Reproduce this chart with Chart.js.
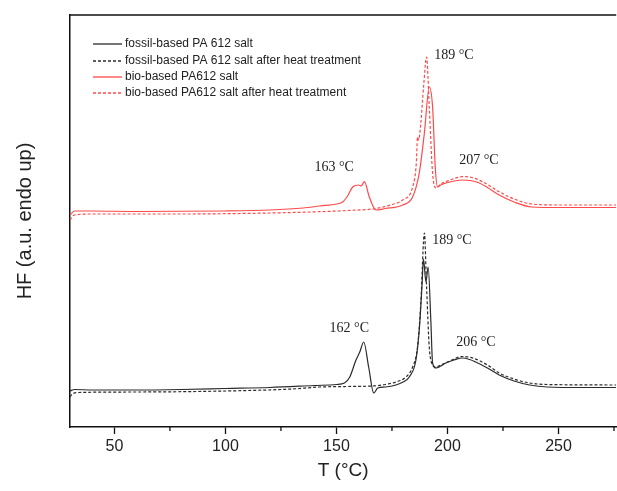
<!DOCTYPE html>
<html>
<head>
<meta charset="utf-8">
<script src="https://cdn.jsdelivr.net/npm/chart.js@4/dist/chart.umd.min.js"></script>
<style>
  html, body { margin: 0; padding: 0; background: #fff; }
  #wrap { width: 617px; height: 491px; position: relative; }
</style>
</head>
<body>
<div id="wrap"><canvas id="dscChart"></canvas></div>
<script>
// DSC heating curves, HF in arbitrary units (endo up)
const fossilT  = [30, 32, 40, 60, 80, 100, 120, 140, 150, 153.6, 156, 158.8, 160.5, 162.3, 164.5, 166.8, 168.6, 172, 176.8, 180, 182.8, 185.8, 187.3, 188.5, 189.2, 190.3, 191.3, 192.5, 193.3, 194.8, 197, 199.3, 203, 206.8, 210, 212.7, 218, 223.3, 230, 237, 245, 260, 276];
const fossilHF = [36, 37.5, 37, 37, 37.5, 38.5, 39.5, 41.5, 42.5, 44, 50, 67, 75, 85, 60, 34, 39, 40, 42, 45, 50, 67, 97, 140, 168, 145, 160, 107, 64, 59, 61, 64, 67, 69, 67.5, 65, 59, 52, 46, 42, 40, 39.5, 39.5];

const fossilHeatT  = [30, 31, 34, 60, 100, 130, 142.4, 155, 166.3, 172, 176.8, 181.3, 184.3, 186.5, 188, 189.6, 190.6, 191.8, 193.3, 194.5, 197, 200, 206.8, 212, 218, 223.3, 230, 237, 245, 276];
const fossilHeatHF = [30, 33, 34.5, 35, 36, 38, 40, 40.5, 41, 42.5, 45, 50, 60, 80, 124, 194, 140, 80, 62, 60, 62, 65, 70.5, 68.5, 62, 54, 48, 44, 42.5, 42];

const bioT  = [30, 32, 40, 60, 100, 120, 135, 142.4, 150, 152.8, 155, 157.3, 160, 161.1, 162.6, 164.8, 167.8, 172, 179.8, 184.3, 187.3, 189.6, 191.8, 193.3, 194.5, 195.5, 197, 199.3, 203, 206.8, 210, 214.3, 218, 223.3, 230, 238, 250, 276];
const bioHF = [212, 216, 216, 215.5, 216, 217, 219, 221, 223, 225, 231, 240, 242, 241, 245.3, 230, 217, 218.5, 222, 230, 254, 294, 340, 320, 260, 240, 242, 244, 246, 247, 246.5, 244, 239.5, 232, 225, 220, 219.5, 219.5];

const bioHeatT  = [30, 32, 40, 80, 120, 142.4, 155, 167.8, 175, 179.8, 184.3, 186, 186.5, 187, 188, 189.3, 190.6, 191.8, 193.3, 194.8, 197, 199.3, 203, 206.8, 211, 216, 223.3, 230, 238, 250, 276];
const bioHeatHF = [207, 212, 213, 213, 214, 215.3, 216.5, 218.5, 222.5, 227, 240, 265, 290, 287, 304, 342, 370, 320, 254, 239, 243, 245.3, 248.5, 250.3, 249.5, 245, 235.3, 228, 223, 222, 222];

const seriesNames = [
    'fossil-based PA 612 salt',
    'fossil-based PA 612 salt after heat treatment',
    'bio-based PA612 salt',
    'bio-based PA612 salt after heat treatment'
];

// peak labels: text, temperature, HF where the label sits
const peakLabels = ['189 °C', '163 °C', '207 °C', '189 °C', '162 °C', '206 °C'];
const peakLabelT  = [194.0, 140.1, 205.3, 193.1, 146.9, 203.9];
const peakLabelHF = [372, 260, 267, 187, 99, 85];

const xTicks = [50, 75, 100, 125, 150, 175, 200, 225, 250, 275];

const BLACK = '#2b2b2b';
const RED = '#ff4a4a';

function toPoints(xs, ys) {
    return xs.map((x, i) => ({ x: x, y: ys[i] }));
}

function makeSet(label, xs, ys, color, dashed) {
    return {
        label: label,
        data: toPoints(xs, ys),
        borderColor: color,
        borderWidth: 1.2,
        borderDash: dashed ? [3, 2] : [],
        pointRadius: 0,
        fill: false,
        cubicInterpolationMode: 'monotone'
    };
}

// frame top line, minor ticks, legend and peak labels
const decorPlugin = {
    id: 'decor',
    afterDraw(chart) {
        const ctx = chart.ctx;
        const area = chart.chartArea;
        const xs = chart.scales.x;
        const ys = chart.scales.y;
        ctx.save();

        ctx.strokeStyle = '#111';
        ctx.lineWidth = 1.5;
        ctx.beginPath();
        ctx.moveTo(area.left, area.top);
        ctx.lineTo(area.right, area.top);
        ctx.stroke();

        // minor ticks (major ones come from the axis)
        ctx.lineWidth = 1.3;
        xTicks.filter(v => v % 50 !== 0).forEach(v => {
            const px = xs.getPixelForValue(v);
            ctx.beginPath();
            ctx.moveTo(px, area.bottom);
            ctx.lineTo(px, area.bottom + 4);
            ctx.stroke();
        });

        // legend
        ctx.font = '12px "Liberation Sans", Arial, sans-serif';
        ctx.textBaseline = 'middle';
        ctx.textAlign = 'left';
        const rowY = [44, 61, 77, 93];
        chart.data.datasets.forEach((ds, i) => {
            const y = rowY[i];
            ctx.strokeStyle = ds.borderColor;
            ctx.lineWidth = 1.3;
            ctx.setLineDash(ds.borderDash);
            ctx.beginPath();
            ctx.moveTo(area.left + 23, y);
            ctx.lineTo(area.left + 52, y);
            ctx.stroke();
            ctx.setLineDash([]);
            ctx.fillStyle = '#222';
            ctx.fillText(ds.label, area.left + 55, y);
        });

        // peak temperature labels
        ctx.font = '14px "Liberation Serif", "Times New Roman", serif';
        ctx.fillStyle = '#222';
        peakLabels.forEach((txt, i) => {
            ctx.fillText(txt, xs.getPixelForValue(peakLabelT[i]), ys.getPixelForValue(peakLabelHF[i]));
        });

        ctx.restore();
    }
};

new Chart(document.getElementById('dscChart').getContext('2d'), {
    type: 'line',
    data: {
        datasets: [
            makeSet(seriesNames[0], fossilT, fossilHF, BLACK, false),
            makeSet(seriesNames[1], fossilHeatT, fossilHeatHF, BLACK, true),
            makeSet(seriesNames[2], bioT, bioHF, RED, false),
            makeSet(seriesNames[3], bioHeatT, bioHeatHF, RED, true)
        ]
    },
    options: {
        responsive: true,
        maintainAspectRatio: false,
        animation: false,
        layout: { padding: { top: 15, left: 0, right: 0, bottom: 0 } },
        plugins: {
            legend: { display: false },
            tooltip: { enabled: false }
        },
        scales: {
            x: {
                type: 'linear',
                min: 30,
                max: 276,
                afterBuildTicks: scale => { scale.ticks = xTicks.map(v => ({ value: v })); },
                afterFit: scale => { scale.height = 64; },
                ticks: {
                    autoSkip: false,
                    maxRotation: 0,
                    padding: 3,
                    color: '#222',
                    font: { family: '"Liberation Sans", Arial, sans-serif', size: 16 },
                    callback: v => (v % 50 === 0 && v < 275 ? v : '')
                },
                grid: {
                    drawOnChartArea: false,
                    drawTicks: true,
                    tickLength: 7,
                    tickWidth: 1.3,
                    tickColor: c => (c.tick && c.tick.value % 50 === 0 ? '#111' : 'rgba(0,0,0,0)')
                },
                border: { display: true, color: '#111', width: 1.5 },
                title: {
                    display: true,
                    text: 'T (°C)',
                    color: '#222',
                    font: { family: '"Liberation Sans", Arial, sans-serif', size: 19 },
                    padding: { top: 0, bottom: 9 }
                }
            },
            y: {
                type: 'linear',
                min: 0,
                max: 412,
                afterFit: scale => { scale.width = 70; },
                ticks: { display: false },
                grid: { display: false, drawTicks: false },
                border: { display: true, color: '#111', width: 1.5 },
                title: {
                    display: true,
                    text: 'HF (a.u. endo up)',
                    color: '#222',
                    font: { family: '"Liberation Sans", Arial, sans-serif', size: 20 },
                    padding: { top: 13, bottom: 0 }
                }
            }
        }
    },
    plugins: [decorPlugin]
});
</script>
</body>
</html>
